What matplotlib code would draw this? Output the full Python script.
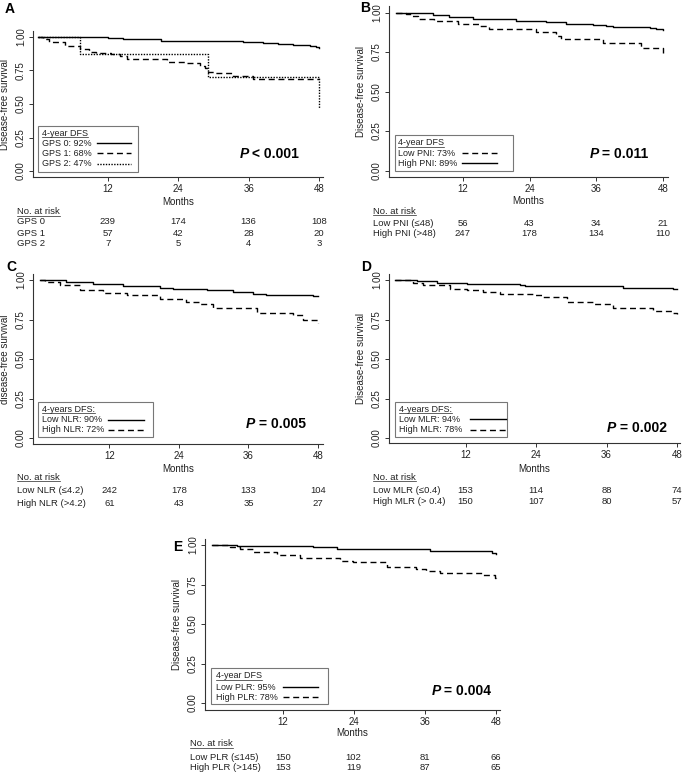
import numpy as np
import matplotlib.pyplot as plt
from matplotlib import transforms
from matplotlib.lines import Line2D
from matplotlib.patches import Rectangle

plt.rcParams['font.family'] = ['Liberation Sans', 'DejaVu Sans']

W, H = 685, 774
month_ticks = [12, 24, 36, 48]
surv_ticks = [0.0, 0.25, 0.5, 0.75, 1.0]

# A: GPS
gps0_t = [0, 6, 12, 14.5, 17, 21, 33, 35, 38.5, 41, 43.5, 46.5, 47.5, 48]
gps0_s = [1.0, 0.997, 0.993, 0.987, 0.982, 0.973, 0.968, 0.960, 0.953, 0.948, 0.943, 0.933, 0.925, 0.920]
gps1_t = [0, 1, 2, 4.7, 7.2, 8.7, 10, 12.6, 14, 15.2, 22, 25.4, 27.7, 28.5, 29.1, 30.3, 33.4, 36.8, 48]
gps1_s = [1.0, 0.985, 0.965, 0.93, 0.91, 0.89, 0.878, 0.87, 0.858, 0.836, 0.816, 0.803, 0.784, 0.766, 0.74, 0.729, 0.71, 0.684, 0.684]
gps2_t = [0, 7.2, 29.1, 48]
gps2_s = [1.0, 0.87, 0.70, 0.47]
risk_gps = {'GPS 0': [239, 174, 136, 108], 'GPS 1': [57, 42, 28, 20], 'GPS 2': [7, 5, 4, 3]}

# B: PNI
pni_low_t = [0, 1.8, 2.7, 3.9, 6.9, 11.1, 15, 16.8, 25.2, 28.8, 29.7, 37.2, 44.1, 48]
pni_low_s = [1.0, 0.99, 0.977, 0.96, 0.946, 0.93, 0.916, 0.895, 0.874, 0.853, 0.83, 0.805, 0.774, 0.745]
pni_high_t = [0, 3.6, 6.6, 9.6, 13.8, 21.6, 27, 30.6, 35.4, 37.8, 39, 45.6, 46.8, 48]
pni_high_s = [1.0, 0.994, 0.983, 0.973, 0.962, 0.948, 0.94, 0.93, 0.923, 0.914, 0.906, 0.90, 0.893, 0.89]
risk_pni = {'Low PNI (\u226448)': [56, 43, 34, 21], 'High PNI (>48)': [247, 178, 134, 110]}

# C: NLR
nlr_low_t = [0, 4.6, 9.2, 14.4, 20.7, 23, 28.8, 33.4, 36.8, 39, 47.1, 48]
nlr_low_s = [1.0, 0.988, 0.977, 0.962, 0.952, 0.945, 0.935, 0.924, 0.914, 0.908, 0.899, 0.899]
nlr_high_t = [0, 0.9, 3.5, 7, 11, 15, 20.7, 25.3, 27.6, 29.9, 37.4, 43.7, 45.4, 48]
nlr_high_s = [1.0, 0.988, 0.967, 0.935, 0.918, 0.903, 0.882, 0.861, 0.847, 0.82, 0.794, 0.777, 0.75, 0.725]
risk_nlr = {'Low NLR (\u22644.2)': [242, 178, 133, 104], 'High NLR (>4.2)': [61, 43, 35, 27]}

# D: MLR
mlr_low_t = [0, 3.7, 7.1, 12.2, 21.3, 22.1, 38.8, 47.3, 48]
mlr_low_s = [1.0, 0.992, 0.983, 0.977, 0.97, 0.962, 0.952, 0.94, 0.94]
mlr_high_t = [0, 3.1, 4.8, 9.4, 12.2, 15, 17.9, 23.5, 25.2, 29.2, 33.7, 37.1, 43.9, 47.3, 48]
mlr_high_s = [1.0, 0.98, 0.966, 0.945, 0.935, 0.924, 0.914, 0.903, 0.893, 0.861, 0.847, 0.82, 0.805, 0.788, 0.785]
risk_mlr = {'Low MLR (\u22640.4)': [153, 114, 88, 74], 'High MLR (> 0.4)': [150, 107, 80, 57]}

# E: PLR
plr_low_t = [0, 4.2, 17.2, 21.1, 36.9, 47.3, 48]
plr_low_s = [1.0, 0.995, 0.985, 0.975, 0.962, 0.947, 0.945]
plr_high_t = [0, 3.1, 4.8, 7, 11, 14.9, 21.7, 23.9, 29.6, 34.6, 36.3, 38.6, 45.9, 47.9, 48]
plr_high_s = [1.0, 0.985, 0.973, 0.958, 0.937, 0.916, 0.901, 0.895, 0.863, 0.848, 0.838, 0.821, 0.81, 0.789, 0.785]
risk_plr = {'Low PLR (\u2264145)': [150, 102, 81, 66], 'High PLR (>145)': [153, 119, 87, 65]}

SOLID = dict(linestyle='-')
DASH = dict(dashes=(4.3, 2.7))
DOT = dict(dashes=(1, 1))
AXC = '#333333'
TXT = '#222222'

fig = plt.figure(figsize=(W / 100, H / 100), dpi=100)
underlined = []


def fx(x):
    return x / W


def fy(y):
    return 1 - y / H


def panel(letter, letter_xy, box, x0, x48, y1, y0, ylabel, ylabel_x):
    left, right, top, bottom = box
    ax = fig.add_axes([fx(left), fy(bottom), (right - left) / W, (bottom - top) / H])
    ppm = (x48 - x0) / 48
    ax.set_xlim((left - x0) / ppm, (right - x0) / ppm)
    ppu = y0 - y1
    ax.set_ylim((y0 - bottom) / ppu, (y0 - top) / ppu)
    for s in ['top', 'right']:
        ax.spines[s].set_visible(False)
    for s in ['left', 'bottom']:
        ax.spines[s].set_color(AXC)
        ax.spines[s].set_linewidth(0.8)
    ax.set_xticks(month_ticks)
    ax.set_yticks(surv_ticks)
    ax.set_yticklabels(['%.2f' % v for v in surv_ticks], rotation=90, va='center')
    ax.tick_params(length=3, width=0.7, color=AXC, labelsize=7, pad=2, labelcolor=TXT)
    ax.set_ylabel(ylabel, fontsize=7, color=TXT)
    ax.yaxis.label.set_va('center')
    ax.yaxis.set_label_coords((ylabel_x - left) / (right - left), 0.5)
    fig.text(fx(letter_xy[0]), fy(letter_xy[1]), letter, fontsize=10, fontweight='bold',
             ha='left', va='center')
    return ax


def curves(ax, series):
    for t, s, style in series:
        ax.step(t, s, where='post', color='k', lw=1.0, **style)


def legend(box, title, entries, text_x, rows_y, line_x):
    l, r, t, b = box
    fig.patches.append(Rectangle((fx(l), fy(b)), (r - l) / W, (b - t) / H,
                                 transform=fig.transFigure, fill=False,
                                 ec='#777777', lw=0.8))
    tt = fig.text(fx(text_x), fy(rows_y[0]), title, fontsize=6.5, va='center', color=TXT)
    underlined.append(tt)
    for (label, style), y in zip(entries, rows_y[1:]):
        fig.text(fx(text_x), fy(y), label, fontsize=6.5, va='center', color=TXT)
        fig.add_artist(Line2D([fx(line_x[0]), fx(line_x[1])], [fy(y), fy(y)],
                              transform=fig.transFigure, color='k', lw=1.0, **style))


def pvalue(x, y, rest):
    fig.text(fx(x), fy(y), 'P', fontsize=10, fontweight='bold', style='italic',
             ha='left', va='center')
    fig.text(fx(x + 8.5), fy(y), rest, fontsize=10, fontweight='bold',
             ha='left', va='center')


def risk_table(ax, months_y, head_y, rows_y, label_x, risk):
    left = ax.get_position().x0
    width = ax.get_position().width
    fig.text(left + width / 2, fy(months_y), 'Months', fontsize=7, ha='center',
             va='center', color=TXT)
    hd = fig.text(fx(label_x), fy(head_y), 'No. at risk', fontsize=6.8, va='center',
                  color=TXT)
    underlined.append(hd)
    tr = transforms.blended_transform_factory(ax.transData, fig.transFigure)
    for (name, vals), y in zip(risk.items(), rows_y):
        fig.text(fx(label_x), fy(y), name, fontsize=6.8, va='center', color=TXT)
        for m, v in zip(month_ticks, vals):
            fig.text(m, fy(y), str(v), fontsize=6.8, ha='center', va='center',
                     transform=tr, color=TXT)


# Panel A
axA = panel('A', (5, 9), (33, 323, 31, 177), 37.5, 319, 37, 171,
            'Disease-free survival', 5)
curves(axA, [(gps0_t, gps0_s, SOLID), (gps1_t, gps1_s, DASH), (gps2_t, gps2_s, DOT)])
legend((38, 138, 126, 172), '4-year DFS',
       [('GPS 0: 92%', SOLID), ('GPS 1: 68%', DASH), ('GPS 2: 47%', DOT)],
       42, [133, 143, 153, 164], (97, 131))
pvalue(240, 154, ' < 0.001')
risk_table(axA, 202, 212, [222, 233, 244], 17, risk_gps)

# Panel B
axB = panel('B', (360, 8), (389, 668, 6, 177), 396, 663, 12.5, 170.5,
            'Disease-free survival', 361)
curves(axB, [(pni_low_t, pni_low_s, DASH), (pni_high_t, pni_high_s, SOLID)])
legend((395, 513, 135, 171), '4-year DFS',
       [('Low PNI: 73%', DASH), ('High PNI: 89%', SOLID)],
       398, [142.5, 153, 163], (462, 497))
pvalue(590, 154, ' = 0.011')
risk_table(axB, 201, 211, [223, 233], 373, risk_pni)

# Panel C
axC = panel('C', (6, 267), (33, 323, 274, 444), 39.7, 318, 280, 438,
            'disease-free survival', 5)
curves(axC, [(nlr_low_t, nlr_low_s, SOLID), (nlr_high_t, nlr_high_s, DASH)])
legend((38, 153, 402, 437), '4-years DFS:',
       [('Low NLR: 90%', SOLID), ('High NLR: 72%', DASH)],
       42, [409, 420, 430], (108, 144))
pvalue(246, 424, ' = 0.005')
risk_table(axC, 469, 477, [490, 503], 17, risk_nlr)

# Panel D
axD = panel('D', (361, 267), (389, 680, 274, 443), 395, 677, 280, 438,
            'Disease-free survival', 361)
curves(axD, [(mlr_low_t, mlr_low_s, SOLID), (mlr_high_t, mlr_high_s, DASH)])
legend((395, 507, 402, 437), '4-years DFS:',
       [('Low MLR: 94%', SOLID), ('High MLR: 78%', DASH)],
       399, [409, 419, 430], (470, 506))
pvalue(607, 428, ' = 0.002')
risk_table(axD, 469, 477, [490, 502], 373, risk_mlr)

# Panel E
axE = panel('E', (173, 547), (205, 500, 539, 710), 211.7, 495.7, 545, 703,
            'Disease-free survival', 177)
curves(axE, [(plr_low_t, plr_low_s, SOLID), (plr_high_t, plr_high_s, DASH)])
legend((211, 328, 668, 704), '4-year DFS',
       [('Low PLR: 95%', SOLID), ('High PLR: 78%', DASH)],
       216, [676, 687, 697], (283, 318))
pvalue(432, 691, ' = 0.004')
risk_table(axE, 733, 744, [757, 768], 190, risk_plr)

# underline titles
fig.canvas.draw()
inv = fig.transFigure.inverted()
for t in underlined:
    bb = t.get_window_extent()
    (xa, ya), (xb, _) = inv.transform([(bb.x0, bb.y0 + 0.5), (bb.x1, bb.y0 + 0.5)])
    fig.add_artist(Line2D([xa, xb], [ya, ya], transform=fig.transFigure,
                          color=TXT, lw=0.5))

fig.savefig('out.png', dpi=100)
